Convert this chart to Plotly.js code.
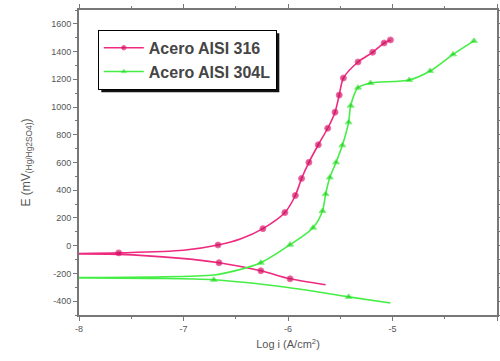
<!DOCTYPE html>
<html>
<head>
<meta charset="utf-8">
<script src="https://cdn.plot.ly/plotly-3.0.1.min.js"></script>
<style>html,body{margin:0;padding:0;background:#fff;}#chart{width:500px;height:361px;}</style>
</head>
<body>
<div id="chart"></div>
<script>
// Acero AISI 316: cathodic branch (right to left), then anodic branch (left to right)
const x316 = [-5.64, -5.98, -6.26, -6.66, -7.05, -7.62, -8.3, -7.62, -7.0, -6.67, -6.45, -6.24, -6.03, -5.93, -5.87, -5.80, -5.71, -5.62, -5.55, -5.51, -5.47, -5.33, -5.19, -5.08, -5.02];
const y316 = [-282, -239, -181, -123, -90, -63, -60, -52, -33, 5, 50, 123, 239, 362, 485, 601, 728, 847, 963, 1086, 1209, 1325, 1395, 1462, 1484];
const mark316 = [0,1,1,1,0,0,0,1,0,1,0,1,1,1,1,1,1,1,1,1,1,1,1,1,1];

// Acero AISI 304L
const x304 = [-5.02, -5.42, -6.0, -6.71, -7.3, -8.3, -7.3, -6.71, -6.5, -6.26, -5.98, -5.76, -5.67, -5.64, -5.60, -5.54, -5.48, -5.42, -5.40, -5.33, -5.21, -4.84, -4.64, -4.42, -4.22];
const y304 = [-413, -369, -302, -246, -236, -232, -226, -212, -180, -123, 7, 130, 250, 372, 492, 601, 724, 890, 1010, 1140, 1173, 1195, 1260, 1380, 1477];
const mark304 = [0,1,0,1,0,0,0,0,0,1,1,1,1,1,1,1,1,1,1,1,1,1,1,1,1];

const names = ['Acero AISI 316', 'Acero AISI 304L'];
const xTicks = [-8, -7, -6, -5, -4];
const yTicks = [-400, -200, 0, 200, 400, 600, 800, 1000, 1200, 1400, 1600];

const traces = [
  {x: x316, y: y316, name: names[0], mode: 'lines+markers',
   line: {color: '#ee2a7f', width: 1.6, shape: 'spline', smoothing: 0.8},
   marker: {symbol: 'circle', color: '#cc1060', size: mark316.map(m => m ? 6 : 0)}},
  {x: x304, y: y304, name: names[1], mode: 'lines+markers',
   line: {color: '#44ee44', width: 1.6, shape: 'spline', smoothing: 0.8},
   marker: {symbol: 'triangle-up', color: '#22cc22', size: mark304.map(m => m ? 6 : 0)}}
];

const axisCommon = {
  showline: true, linecolor: '#777', linewidth: 2, mirror: 'ticks',
  ticks: 'outside', ticklen: 4, tickcolor: '#777', tickwidth: 1,
  showgrid: false, zeroline: false,
  tickfont: {family: 'Arial, Liberation Sans, sans-serif', size: 9, color: '#555'}
};

const ML = 79, MR = 3, MT = 10, MB = 46, W = 500, H = 361;
const layout = {
  width: W, height: H,
  margin: {l: ML, r: MR, t: MT, b: MB},
  paper_bgcolor: '#fff', plot_bgcolor: '#fff',
  showlegend: true,
  legend: {x: 0.045, y: 0.935, xanchor: 'left', yanchor: 'top',
    bgcolor: '#fff', bordercolor: '#000', borderwidth: 1, itemwidth: 40,
    font: {family: 'Arial, Liberation Sans, sans-serif', size: 16, weight: 'bold', color: '#454545'},
    tracegroupgap: 0},
  xaxis: Object.assign({}, axisCommon, {
    range: [-8, -4], tickvals: xTicks, ticktext: xTicks.map(String),
    minor: {dtick: 0.5, ticks: 'outside', ticklen: 2, tickcolor: '#777'},
    title: {text: 'Log i (A/cm<sup>2</sup>)', standoff: 8,
      font: {family: 'Arial, Liberation Sans, sans-serif', size: 11, color: '#555'}}
  }),
  yaxis: Object.assign({}, axisCommon, {
    range: [-500, 1700], tickvals: yTicks, ticktext: yTicks.map(String),
    minor: {dtick: 100, ticks: 'outside', ticklen: 2, tickcolor: '#777'},
    title: {text: 'E (mV<sub>(Hg/Hg2SO4)</sub>)', standoff: 18,
      font: {family: 'Arial, Liberation Sans, sans-serif', size: 12, color: '#555'}}
  })
};

Plotly.newPlot('chart', traces, layout, {displayModeBar: false, staticPlot: true}).then(gd => {
  // drop shadow behind legend box (offset to the right and down)
  const bg = gd.querySelector('.legend .bg');
  if (!bg) return;
  const r = bg.getBoundingClientRect();
  const c = gd.getBoundingClientRect();
  const pw = W - ML - MR, ph = H - MT - MB;
  const off = 3;
  const toX = px => (px - c.left - ML) / pw;
  const toY = py => (H - MB - (py - c.top)) / ph;
  Plotly.relayout(gd, {shapes: [{
    type: 'rect', xref: 'paper', yref: 'paper', layer: 'above',
    x0: toX(r.left + off), x1: toX(r.right + off),
    y0: toY(r.bottom + off), y1: toY(r.top + off),
    fillcolor: '#111', line: {width: 0}
  }]});
});
</script>
</body>
</html>
